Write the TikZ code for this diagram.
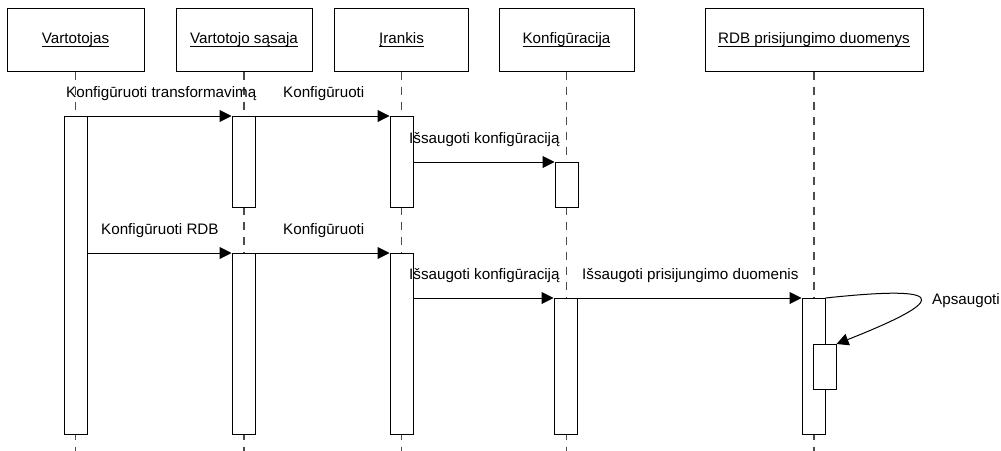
\documentclass[tikz,border=0pt]{standalone}
\usepackage{fontspec}
\setmainfont{Liberation Sans}
\usetikzlibrary{arrows.meta}

% underlined text with a fixed rule position below the baseline
\newsavebox\ulbox
\newcommand\uln[1]{\sbox\ulbox{#1}\usebox\ulbox\llap{\rule[-3pt]{\wd\ulbox}{0.9pt}}}

\begin{document}
\begin{tikzpicture}[x=1pt,y=-1pt,
  font=\fontsize{15.2}{18}\selectfont,
  actor/.style={draw, line width=1pt, minimum height=63pt, inner sep=0pt},
  bar/.style={draw, fill=white, line width=1pt, minimum width=23pt, inner sep=0pt, anchor=north},
  life/.style={draw=black!70, line width=1.2pt, dash pattern=on 8pt off 7pt},
  msg/.style={line width=1pt, -{Triangle[length=12pt,width=12pt]}},
  lbl/.style={anchor=base west, inner sep=0pt}
]
\useasboundingbox (0,0) rectangle (1001,450);

% participants
\node[actor, minimum width=137pt] (A) at (75.5,39.5) {\uln{Vartotojas}};
\node[actor, minimum width=136pt] (B) at (244,39.5) {\uln{Vartotojo sąsaja}};
\node[actor, minimum width=134pt] (C) at (401.5,39.5) {\uln{Įrankis}};
\node[actor, minimum width=135pt] (D) at (566.5,39.5) {\uln{Konfigūracija}};
\node[actor, minimum width=218pt] (E) at (814,39.5) {\uln{RDB prisijungimo duomenys}};

% lifelines
\draw[life] (A.south) -- ++(0,379);
\draw[life] (B.south) -- ++(0,379);
\draw[life] (C.south) -- ++(0,379);
\draw[life] (D.south) -- ++(0,379);
\draw[life] (E.south) -- ++(0,379);

% activation bars
\node[bar, minimum height=318pt] (a1) at (75.5,116) {};
\node[bar, minimum height=91pt] (b1) at (243.5,116) {};
\node[bar, minimum height=181pt] (b2) at (243.5,253) {};
\node[bar, minimum height=91pt] (c1) at (401.5,116) {};
\node[bar, minimum height=181pt] (c2) at (401.5,253) {};
\node[bar, minimum height=45pt] (d1) at (566.5,162) {};
\node[bar, minimum height=136pt] (d2) at (565.5,298) {};
\node[bar, minimum height=136pt] (e1) at (813.5,298) {};
\node[bar, minimum height=45pt] (e2) at (824.5,344) {};

% messages
\draw[msg] (a1.north east) -- (b1.north west);
\draw[msg] (b1.north east) -- (c1.north west);
\draw[msg] (c1.east |- d1.north) -- (d1.north west);
\draw[msg] (a1.east |- b2.north) -- (b2.north west);
\draw[msg] (b2.north east) -- (c2.north west);
\draw[msg] (c2.east |- d2.north) -- (d2.north west);
\draw[msg] (d2.north east) -- (e1.north west);
\draw[msg] (e1.north east) .. controls (965,283) and (935,305) .. (e2.north east);

% message labels
\node[lbl] (m1) at (66,97) {Konfigūruoti transformavimą};
\node[lbl] (m2) at (283,97) {Konfigūruoti};
\node[lbl] (m3) at (409,143) {Išsaugoti konfigūraciją};
\node[lbl] (m4) at (101,234) {Konfigūruoti RDB};
\node[lbl] (m5) at (283,234) {Konfigūruoti};
\node[lbl] (m6) at (409,279) {Išsaugoti konfigūraciją};
\node[lbl] (m7) at (582,279) {Išsaugoti prisijungimo duomenis};
\node[lbl] (m8) at (932,304) {Apsaugoti};
\end{tikzpicture}
\end{document}
